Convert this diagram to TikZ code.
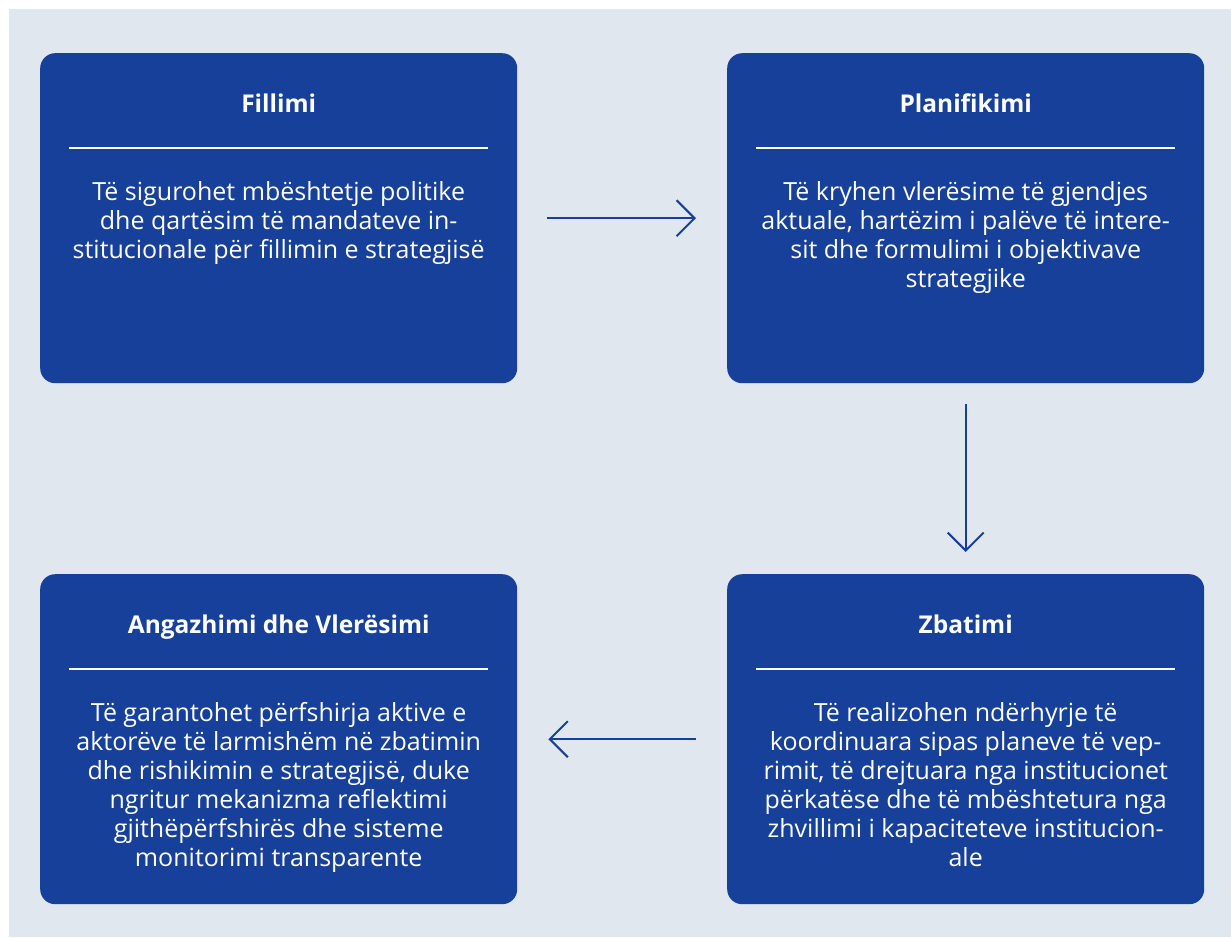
\documentclass[tikz,border=0pt]{standalone}
\usepackage{fontspec}
\setmainfont{Open Sans}
\usetikzlibrary{arrows.meta}
\definecolor{boxblue}{HTML}{17409A}
\definecolor{pagegray}{HTML}{E0E7EF}
\tikzset{
  phase/.style={fill=boxblue, rounded corners=15pt, minimum width=477pt,
    minimum height=330pt, inner sep=0pt, anchor=north west},
  phasetitle/.style={text=white, inner sep=0pt, anchor=base,
    font=\fontsize{24.5}{28}\selectfont\bfseries},
  phasetext/.style={text=white, inner sep=0pt, anchor=north, align=center,
    font=\fontsize{25}{29}\selectfont},
  flow/.style={boxblue, line width=2pt, -{Straight Barb[length=18pt,width=36pt]}}
}
\begin{document}
\begin{tikzpicture}[x=1pt,y=-1pt]
\useasboundingbox (0,0) rectangle (1231,937);
% background
\fill[pagegray] (9,9) rectangle (1231,937);
% phases
\foreach \n/\x/\y/\t/\b in {
  fillimi/40/53/{Fillimi}/{Të sigurohet mbështetje politike\\dhe qartësim të mandateve in-\\stitucionale për fillimin e strategjisë},
  planifikimi/727/53/{Planifikimi}/{Të kryhen vlerësime të gjendjes\\aktuale, hartëzim i palëve të intere-\\sit dhe formulimi i objektivave\\strategjike},
  angazhimi/40/574/{Angazhimi dhe Vlerësimi}/{Të garantohet përfshirja aktive e\\aktorëve të larmishëm në zbatimin\\dhe rishikimin e strategjisë, duke\\ngritur mekanizma reflektimi\\gjithëpërfshirës dhe sisteme\\monitorimi transparente},
  zbatimi/727/574/{Zbatimi}/{Të realizohen ndërhyrje të\\koordinuara sipas planeve të vep-\\rimit, të drejtuara nga institucionet\\përkatëse dhe të mbështetura nga\\zhvillimi i kapaciteteve institucion-\\ale}}{
  \node[phase] (\n) at (\x,\y) {};
  \node[phasetitle] (\n-title) at ([yshift=-59pt]\n.north) {\t};
  \draw[white, line width=2pt] ([xshift=29pt,yshift=-95pt]\n.north west)
    -- ([xshift=-29pt,yshift=-95pt]\n.north east);
  \node[phasetext] (\n-text) at ([yshift=-128pt]\n.north) {\b};
}
% flow between phases
\draw[flow, shorten <=30pt, shorten >=31pt] (fillimi) -- (planifikimi);
\draw[flow, shorten <=21pt, shorten >=22pt] (planifikimi) -- (zbatimi);
\draw[flow, shorten <=31pt, shorten >=31pt] (zbatimi) -- (angazhimi);
\end{tikzpicture}
\end{document}
